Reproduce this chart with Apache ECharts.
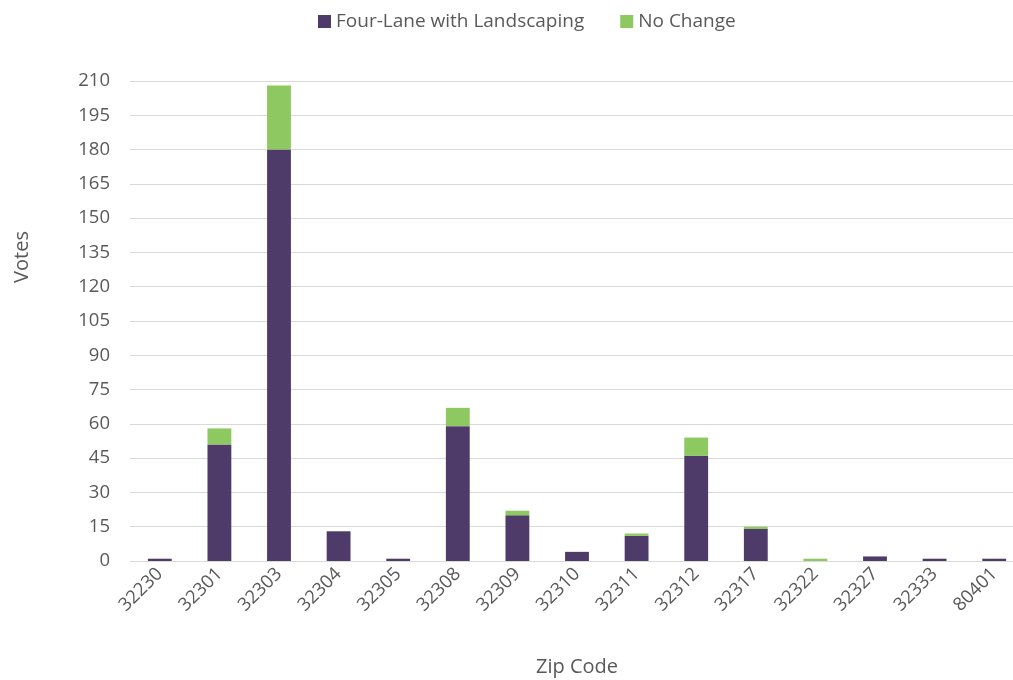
<!DOCTYPE html>
<html>
<head>
<meta charset="utf-8">
<script src="https://cdn.jsdelivr.net/npm/echarts@6/dist/echarts.min.js"></script>
<style>
  html, body { margin: 0; padding: 0; background: #fff; overflow: hidden; }
  #chart { width: 1013px; height: 680px; }
</style>
</head>
<body>
<div id="chart"></div>
<script>
// Votes by zip code, stacked by option
const zipCodes = ['32230','32301','32303','32304','32305','32308','32309','32310','32311','32312','32317','32322','32327','32333','80401'];
const fourLane = [1, 51, 180, 13, 1, 59, 20, 4, 11, 46, 14, 0, 2, 1, 1];
const noChange = [0, 7, 28, 0, 0, 8, 2, 0, 1, 8, 1, 1, 0, 0, 0];

const textColor = '#595959';
const fontFamily = '"Open Sans", "Liberation Sans", sans-serif';

const chart = echarts.init(document.getElementById('chart'));
chart.setOption({
  animation: false,
  textStyle: { fontFamily: fontFamily, color: textColor },
  legend: {
    top: 7,
    left: 313,
    itemWidth: 13,
    itemHeight: 13,
    itemGap: 36,
    icon: 'rect',
    textStyle: { fontSize: 19, color: textColor, fontFamily: fontFamily },
    data: ['Four-Lane with Landscaping', 'No Change']
  },
  graphic: [
    {
      type: 'text',
      x: 22,
      y: 257,
      rotation: Math.PI / 2,
      style: {
        text: 'Votes',
        fontSize: 20,
        fontFamily: fontFamily,
        fill: textColor,
        align: 'center',
        verticalAlign: 'middle'
      }
    }
  ],
  grid: { left: 130, right: -11, top: 81, bottom: 119, outerBoundsMode: 'none', containLabel: false },
  xAxis: {
    type: 'category',
    data: zipCodes,
    name: 'Zip Code',
    nameLocation: 'middle',
    nameGap: 96,
    nameTextStyle: { fontSize: 20, color: textColor },
    axisLine: { lineStyle: { color: '#d9d9d9', width: 1 } },
    axisTick: { show: false },
    axisLabel: { rotate: 45, fontSize: 18.5, color: textColor, margin: 10 }
  },
  yAxis: {
    type: 'value',
    min: 0,
    max: 210,
    interval: 15,
    axisLine: { show: false },
    axisTick: { show: false },
    axisLabel: { fontSize: 18.5, color: textColor, margin: 20 },
    splitLine: { lineStyle: { color: '#d9d9d9', width: 1 } }
  },
  series: [
    {
      name: 'Four-Lane with Landscaping',
      type: 'bar',
      stack: 'votes',
      data: fourLane,
      barWidth: '40%',
      itemStyle: { color: '#4e3b6a' }
    },
    {
      name: 'No Change',
      type: 'bar',
      stack: 'votes',
      data: noChange,
      barWidth: '40%',
      itemStyle: { color: '#8dc860' }
    }
  ]
});
</script>
</body>
</html>
